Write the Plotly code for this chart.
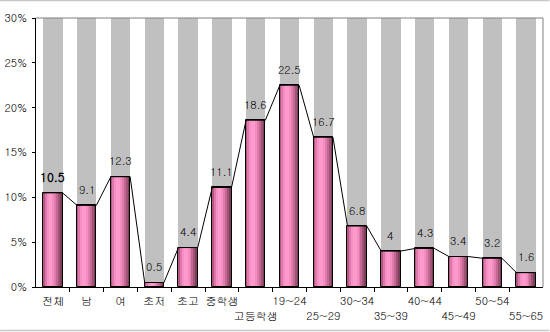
import plotly.graph_objects as go

# Share of respondents by group (%)
categories = ["전체", "남", "여", "초저", "초고", "중학생", "고등학생",
              "19~24", "25~29", "30~34", "35~39", "40~44", "45~49", "50~54", "55~65"]
values = [10.5, 9.1, 12.3, 0.5, 4.4, 11.1, 18.6, 22.5, 16.7, 6.8, 4.0, 4.3, 3.4, 3.2, 1.6]
value_labels = ["10.5", "9.1", "12.3", "0.5", "4.4", "11.1", "18.6", "22.5", "16.7",
                "6.8", "4", "4.3", "3.4", "3.2", "1.6"]
lower_row = {"고등학생", "25~29", "35~39", "45~49", "55~65"}
y_ticks = [0, 5, 10, 15, 20, 25, 30]
y_max = 30

FONT = "Gulim, 'Noto Sans CJK KR', sans-serif"
W, H = 550, 332
L, R, T, B = 36, 6.5, 18, 45
BAR_W = 0.57

x = list(range(len(categories)))
fig = go.Figure()

# grey remainder up to the 30% ceiling
fig.add_trace(go.Bar(
    x=x, y=[y_max - v for v in values], base=values, width=BAR_W,
    marker=dict(color="#C0C0C0", line=dict(width=0)),
    hoverinfo="skip", showlegend=False))

# pink columns with a left-to-right shading built from thin strips
shade = ["#B25682", "#DE78AC", "#F68FC3", "#FF9ACD", "#FF99CC",
         "#F48EC0", "#DF7CAC", "#C36892", "#A05375", "#7B3F59"]
strip = BAR_W / len(shade)
for k, c in enumerate(shade):
    fig.add_trace(go.Bar(
        x=x, y=values, width=strip * 1.02, offset=-BAR_W / 2 + k * strip,
        marker=dict(color=c, line=dict(width=0)),
        hoverinfo="skip", showlegend=False))

# black outline of each column
fig.add_trace(go.Bar(
    x=x, y=values, width=BAR_W,
    marker=dict(color="rgba(0,0,0,0)", line=dict(color="black", width=1)),
    hoverinfo="skip", showlegend=False))

# series lines joining the column tops
lx, ly = [], []
for i, v in enumerate(values):
    lx += [i - BAR_W / 2, i + BAR_W / 2]
    ly += [v, v]
fig.add_trace(go.Scatter(
    x=lx, y=ly, mode="lines", line=dict(color="black", width=1),
    hoverinfo="skip", showlegend=False))

# value labels
for i, (v, t) in enumerate(zip(values, value_labels)):
    fig.add_annotation(
        x=i, y=v, text=f"<b>{t}</b>" if i == 0 else t, showarrow=False,
        yanchor="middle", yshift=16,
        font=dict(family=FONT, size=12 if i == 0 else 11, color="#000000"))

ticktext = [("<br>" + c) if c in lower_row else c for c in categories]

fig.update_layout(
    width=W, height=H, barmode="overlay", bargap=0,
    margin=dict(l=L, r=R, t=T, b=B, autoexpand=False),
    paper_bgcolor="white", plot_bgcolor="white",
    font=dict(family=FONT, size=11, color="black"),
    xaxis=dict(
        range=[-0.5, len(categories) - 0.5], tickvals=x, ticktext=ticktext,
        tickangle=0, ticks="", showgrid=False, zeroline=False,
        showline=True, linecolor="black", linewidth=1,
        ticklabelstandoff=4,
        tickfont=dict(family=FONT, size=11, color="black"),
        minor=dict(tickvals=[i + 0.5 for i in x[:-1]], ticks="outside",
                   ticklen=4, tickcolor="black", tickwidth=1, showgrid=False),
    ),
    yaxis=dict(
        range=[0, y_max], tickvals=y_ticks, ticktext=[f"{t}%" for t in y_ticks],
        ticks="outside", ticklen=3, tickcolor="black",
        showgrid=False, zeroline=False,
        showline=True, linecolor="black", linewidth=1,
        ticklabelstandoff=3,
        tickfont=dict(family=FONT, size=11, color="black"),
    ),
)

# grey frame on the top and right of the plot area
fig.add_shape(type="line", xref="paper", yref="paper", x0=0, x1=1, y0=1, y1=1,
              line=dict(color="#808080", width=1))
fig.add_shape(type="line", xref="paper", yref="paper", x0=1, x1=1, y0=0, y1=1,
              line=dict(color="#808080", width=1))

# outer chart border lines
ph = H - T - B
pw = W - L - R
for py in (0.5, 330.5):
    fig.add_shape(type="line", xref="paper", yref="paper",
                  x0=-L / pw, x1=(W - L) / pw,
                  y0=(H - B - py) / ph, y1=(H - B - py) / ph,
                  line=dict(color="#C8C8C8", width=1.5))

fig.write_html("out.html")
